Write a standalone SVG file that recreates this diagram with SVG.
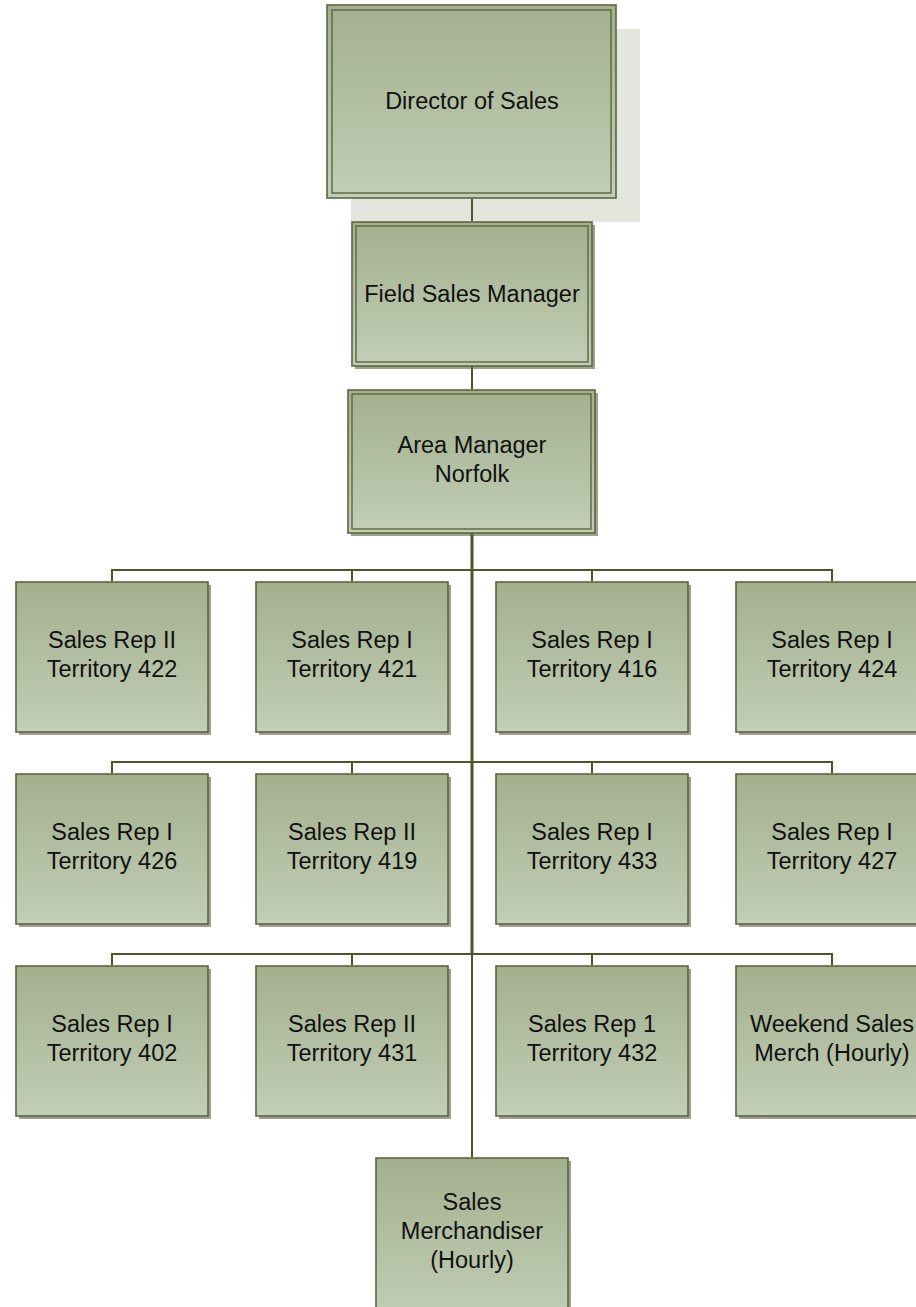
<svg xmlns="http://www.w3.org/2000/svg" width="916" height="1307" viewBox="0 0 916 1307">
<defs>
<linearGradient id="g" x1="0" y1="0" x2="0" y2="1">
<stop offset="0" stop-color="#a3af8d"/>
<stop offset="1" stop-color="#c2ceb6"/>
</linearGradient>
<style>
.box{fill:url(#g);stroke:#5c6640;stroke-width:1.6}
.inner{fill:none;stroke:#5c6640;stroke-width:1.4}
.sh{fill:#9ea190}
.t{font-family:"Liberation Sans",Arial,sans-serif;font-size:23.5px;fill:#111;text-anchor:middle}
.c{fill:none;stroke:#4c5530;stroke-width:2}
.trunk{fill:none;stroke:#4c5530;stroke-width:3}
</style>
</defs>
<rect width="916" height="1307" fill="#ffffff"/>
<g id="director">
<rect x="351" y="29" width="289" height="193" fill="#e3e6dd"/>
<rect class="box" x="327" y="5" width="289" height="193"/>
<rect class="inner" x="332" y="10" width="279" height="183"/>
<text class="t" x="472" y="109">Director of Sales</text>
</g>
<g id="fsm">
<rect class="sh" x="355" y="225" width="240" height="144"/>
<rect class="box" x="352" y="222" width="240" height="144"/>
<rect class="inner" x="356" y="226" width="232" height="136"/>
<text class="t" x="472" y="302">Field Sales Manager</text>
</g>
<g id="am">
<rect class="sh" x="351" y="393" width="247" height="143"/>
<rect class="box" x="348" y="390" width="247" height="143"/>
<rect class="inner" x="352" y="394" width="239" height="135"/>
<text class="t" x="472" y="453">Area Manager</text>
<text class="t" x="472" y="482">Norfolk</text>
</g>
<g id="r1c1"><rect class="sh" x="19" y="585" width="192" height="150"/><rect class="box" x="16" y="582" width="192" height="150"/><text class="t" x="112" y="648">Sales Rep II</text><text class="t" x="112" y="677">Territory 422</text></g>
<g id="r1c2"><rect class="sh" x="259" y="585" width="192" height="150"/><rect class="box" x="256" y="582" width="192" height="150"/><text class="t" x="352" y="648">Sales Rep I</text><text class="t" x="352" y="677">Territory 421</text></g>
<g id="r1c3"><rect class="sh" x="499" y="585" width="192" height="150"/><rect class="box" x="496" y="582" width="192" height="150"/><text class="t" x="592" y="648">Sales Rep I</text><text class="t" x="592" y="677">Territory 416</text></g>
<g id="r1c4"><rect class="sh" x="739" y="585" width="192" height="150"/><rect class="box" x="736" y="582" width="192" height="150"/><text class="t" x="832" y="648">Sales Rep I</text><text class="t" x="832" y="677">Territory 424</text></g>
<g id="r2c1"><rect class="sh" x="19" y="777" width="192" height="150"/><rect class="box" x="16" y="774" width="192" height="150"/><text class="t" x="112" y="840">Sales Rep I</text><text class="t" x="112" y="869">Territory 426</text></g>
<g id="r2c2"><rect class="sh" x="259" y="777" width="192" height="150"/><rect class="box" x="256" y="774" width="192" height="150"/><text class="t" x="352" y="840">Sales Rep II</text><text class="t" x="352" y="869">Territory 419</text></g>
<g id="r2c3"><rect class="sh" x="499" y="777" width="192" height="150"/><rect class="box" x="496" y="774" width="192" height="150"/><text class="t" x="592" y="840">Sales Rep I</text><text class="t" x="592" y="869">Territory 433</text></g>
<g id="r2c4"><rect class="sh" x="739" y="777" width="192" height="150"/><rect class="box" x="736" y="774" width="192" height="150"/><text class="t" x="832" y="840">Sales Rep I</text><text class="t" x="832" y="869">Territory 427</text></g>
<g id="r3c1"><rect class="sh" x="19" y="969" width="192" height="150"/><rect class="box" x="16" y="966" width="192" height="150"/><text class="t" x="112" y="1032">Sales Rep I</text><text class="t" x="112" y="1061">Territory 402</text></g>
<g id="r3c2"><rect class="sh" x="259" y="969" width="192" height="150"/><rect class="box" x="256" y="966" width="192" height="150"/><text class="t" x="352" y="1032">Sales Rep II</text><text class="t" x="352" y="1061">Territory 431</text></g>
<g id="r3c3"><rect class="sh" x="499" y="969" width="192" height="150"/><rect class="box" x="496" y="966" width="192" height="150"/><text class="t" x="592" y="1032">Sales Rep 1</text><text class="t" x="592" y="1061">Territory 432</text></g>
<g id="r3c4"><rect class="sh" x="739" y="969" width="192" height="150"/><rect class="box" x="736" y="966" width="192" height="150"/><text class="t" x="832" y="1032">Weekend Sales</text><text class="t" x="832" y="1061">Merch (Hourly)</text></g>
<g id="merch"><rect class="sh" x="379" y="1161" width="192" height="160"/><rect class="box" x="376" y="1158" width="192" height="160"/><text class="t" x="472" y="1210">Sales</text><text class="t" x="472" y="1239">Merchandiser</text><text class="t" x="472" y="1268">(Hourly)</text></g>
<g id="connectors">
<line class="c" x1="472" y1="198.8" x2="472" y2="221.2"/>
<line class="c" x1="472" y1="366.8" x2="472" y2="389.2"/>
<line class="trunk" x1="472" y1="533.8" x2="472" y2="954"/>
<line class="c" x1="472" y1="954" x2="472" y2="1157.2"/>
<path class="c" d="M112 581.2V570H832V581.2M352 570V581.2M592 570V581.2"/>
<path class="c" d="M112 773.2V762H832V773.2M352 762V773.2M592 762V773.2"/>
<path class="c" d="M112 965.2V954H832V965.2M352 954V965.2M592 954V965.2"/>
</g>
</svg>
